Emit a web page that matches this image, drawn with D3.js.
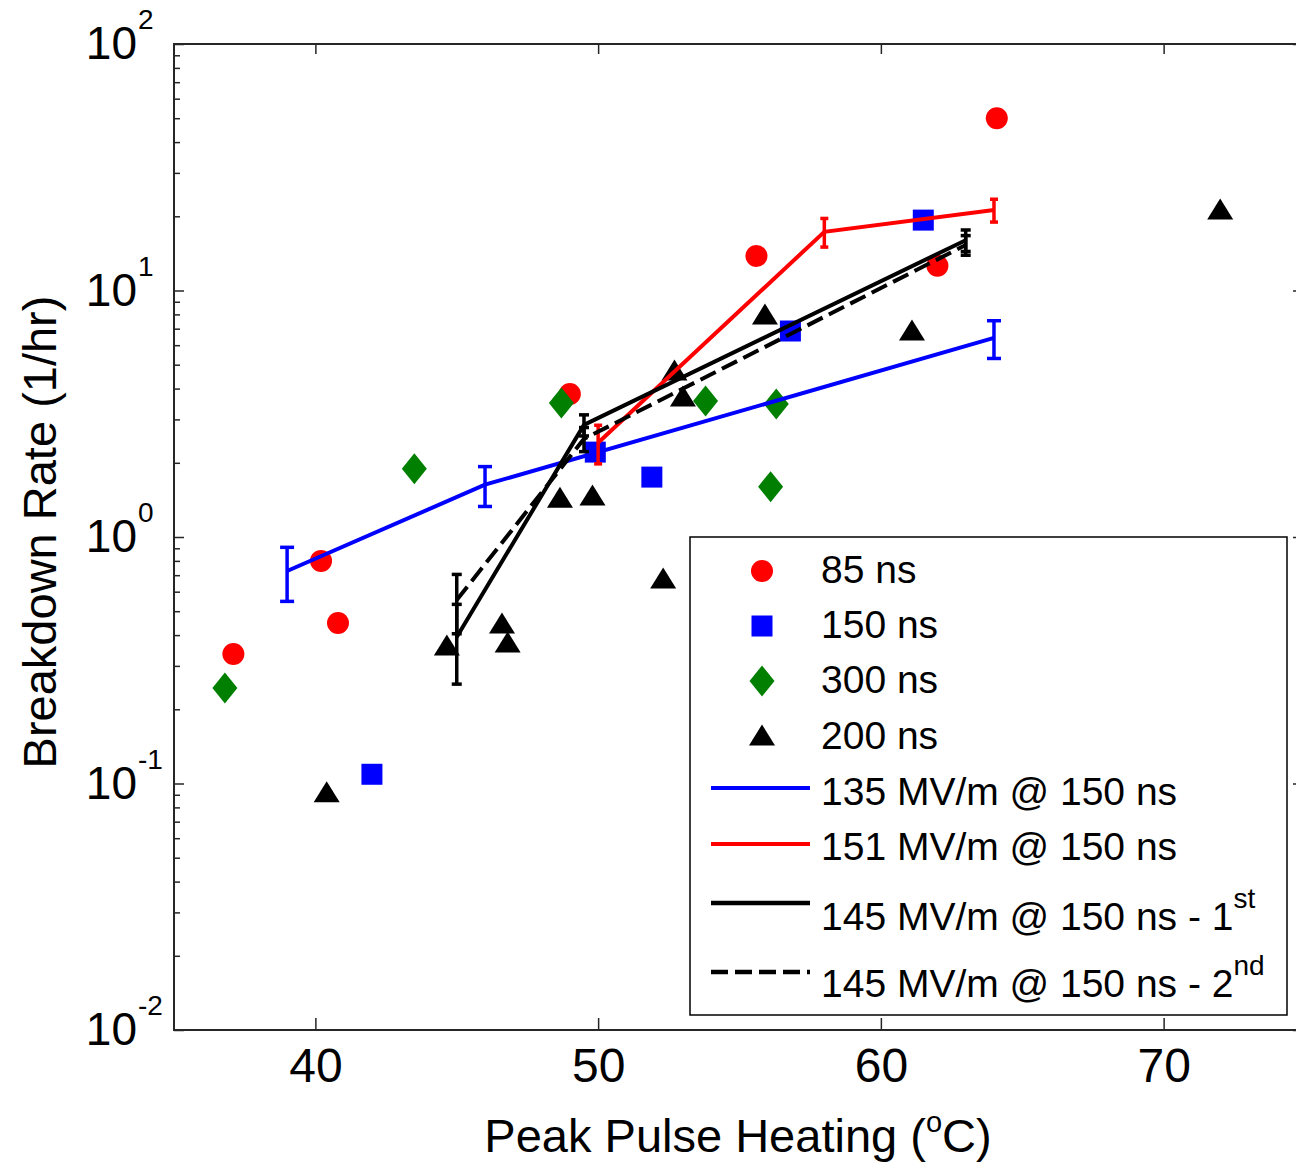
<!DOCTYPE html>
<html>
<head>
<meta charset="utf-8">
<script src="https://cdn.jsdelivr.net/npm/d3@7"></script>
<style>
  body { margin: 0; background: #fff; }
  svg { display: block; font-family: Arial, "Liberation Sans", sans-serif; }
</style>
</head>
<body>
<script>
// Scatter data
var x85 = [37.1, 40.2, 40.8, 49.0, 55.6, 62.0, 64.1];
var y85 = [0.335, 0.80, 0.448, 3.80, 13.8, 12.6, 50];

var x150 = [42.0, 49.9, 51.9, 56.8, 61.5];
var y150 = [0.109, 2.21, 1.75, 6.85, 19.3];

var x300 = [36.8, 43.5, 48.7, 53.8, 56.3, 56.1];
var y300 = [0.244, 1.89, 3.50, 3.56, 3.46, 1.60];

var x200 = [40.4, 44.65, 46.6, 46.8, 48.65, 49.8, 52.3, 52.7, 53.0, 55.9, 61.1, 72.0];
var y200 = [0.0925, 0.365, 0.448, 0.375, 1.45, 1.48, 0.682, 4.76, 3.73, 8.03, 6.92, 21.4];

// Fixed-field runs with error bars
var x135 = [39, 46, 64];
var y135 = [0.728, 1.63, 6.42];
var e135 = [0.18, 0.30, 1.12];

var x151 = [50, 58, 64];
var y151 = [2.41, 17.3, 21.2];
var e151 = [0.43, 2.3, 2.25];

var x145a = [45, 49.5, 63];
var y145a = [0.393, 2.85, 16.0];
var e145a = [0.14, 0.28, 1.6];

var x145b = [45, 49.5, 63];
var y145b = [0.555, 2.5, 15.3];
var e145b = [0.15, 0.28, 1.4];

var xTicks = [40, 50, 60, 70];
var yDecades = [0.01, 0.1, 1, 10, 100];

var W = 1296, H = 1162;
var L = 174, R = 1305, T = 44, B = 1030;

var svg = d3.select('body').append('svg')
  .attr('width', W)
  .attr('height', H);

var x = d3.scaleLinear().domain([35, 75]).range([L, R]);
var y = d3.scaleLog().domain([0.01, 100]).range([B, T]);

function zip(xs, ys) {
  return xs.map(function(v, i) { return [v, ys[i]]; });
}

// marker shapes
var diamond = 'M0,-15.5L12.5,0L0,15.5L-12.5,0Z';
var triangle = 'M0,-10.5L13,10.5L-13,10.5Z';
var square = 'M-10.5,-10.5H10.5V10.5H-10.5Z';

function markers(data, path, color) {
  svg.append('g').selectAll('path')
    .data(data)
    .enter()
    .append('path')
    .attr('d', path)
    .attr('fill', color)
    .attr('transform', function(d) {
      return 'translate(' + x(d[0]) + ',' + y(d[1]) + ')';
    });
}

function circles(data, color) {
  svg.append('g').selectAll('circle')
    .data(data)
    .enter()
    .append('circle')
    .attr('cx', function(d) { return x(d[0]); })
    .attr('cy', function(d) { return y(d[1]); })
    .attr('r', 11)
    .attr('fill', color);
}

circles(zip(x85, y85), '#ff0000');
markers(zip(x150, y150), square, '#0000ff');
markers(zip(x300, y300), diamond, '#007f00');
markers(zip(x200, y200), triangle, '#000');

var line = d3.line()
  .x(function(d) { return x(d[0]); })
  .y(function(d) { return y(d[1]); });

function errLine(xs, ys, es, color, width, dash, cap) {
  var g = svg.append('g');
  var pts = zip(xs, ys);
  g.append('path')
    .datum(pts)
    .attr('d', line)
    .attr('fill', 'none')
    .attr('stroke', color)
    .attr('stroke-width', width)
    .attr('stroke-dasharray', dash);

  var bars = g.selectAll('g.eb')
    .data(xs.map(function(v, i) { return [v, ys[i], es[i]]; }))
    .enter()
    .append('g')
    .attr('stroke', color)
    .attr('stroke-width', 3.5);
  bars.append('line')
    .attr('x1', function(d) { return x(d[0]); })
    .attr('x2', function(d) { return x(d[0]); })
    .attr('y1', function(d) { return y(d[1] + d[2]); })
    .attr('y2', function(d) { return y(d[1] - d[2]); });
  [1, -1].forEach(function(s) {
    bars.append('line')
      .attr('x1', function(d) { return x(d[0]) - cap; })
      .attr('x2', function(d) { return x(d[0]) + cap; })
      .attr('y1', function(d) { return y(d[1] + s * d[2]); })
      .attr('y2', function(d) { return y(d[1] + s * d[2]); });
  });
}

errLine(x135, y135, e135, '#0000ff', 4, null, 7);
errLine(x151, y151, e151, '#ff0000', 4, null, 4);
errLine(x145a, y145a, e145a, '#000', 4, null, 5);
errLine(x145b, y145b, e145b, '#000', 4, '17,7', 5);

// frame and ticks
var axisColor = '#262626';

function styleAxis(g) {
  g.select('.domain').remove();
  g.selectAll('line').attr('stroke', axisColor).attr('stroke-width', 1.5);
}

svg.append('g')
  .attr('transform', 'translate(0,' + B + ')')
  .call(d3.axisBottom(x).tickValues(xTicks).tickSize(-12).tickPadding(18))
  .call(styleAxis)
  .call(function(g) {
    g.selectAll('text').attr('font-size', 48).attr('fill', '#000')
      .attr('font-family', 'Arial, "Liberation Sans", sans-serif');
  });

svg.append('g')
  .attr('transform', 'translate(0,' + T + ')')
  .call(d3.axisTop(x).tickValues(xTicks).tickSize(-10).tickFormat(''))
  .call(styleAxis);

var minor = y.ticks().filter(function(v) { return yDecades.indexOf(v) < 0; });

svg.append('g')
  .attr('transform', 'translate(' + L + ',0)')
  .call(d3.axisLeft(y).tickValues(minor).tickSize(-6).tickFormat(''))
  .call(styleAxis);
svg.append('g')
  .attr('transform', 'translate(' + L + ',0)')
  .call(d3.axisLeft(y).tickValues(yDecades).tickSize(-10).tickFormat(''))
  .call(styleAxis);
svg.append('g')
  .attr('transform', 'translate(' + R + ',0)')
  .call(d3.axisRight(y).tickValues(minor).tickSize(-6).tickFormat(''))
  .call(styleAxis);
svg.append('g')
  .attr('transform', 'translate(' + R + ',0)')
  .call(d3.axisRight(y).tickValues(yDecades).tickSize(-12).tickFormat(''))
  .call(styleAxis);

svg.append('rect')
  .attr('x', L).attr('y', T)
  .attr('width', R - L).attr('height', B - T)
  .attr('fill', 'none')
  .attr('stroke', axisColor)
  .attr('stroke-width', 2);

// y tick labels as 10^n
var yLab = svg.append('g').selectAll('g')
  .data(yDecades)
  .enter()
  .append('g');
yLab.append('text')
  .attr('x', 137)
  .attr('y', function(d) { return y(d) + 15; })
  .attr('text-anchor', 'end')
  .attr('font-size', 46)
  .text('10');
yLab.append('text')
  .attr('x', 138)
  .attr('y', function(d) { return y(d) - 15; })
  .attr('font-size', 28)
  .text(function(d) { return Math.round(Math.log10(d)); });

// axis titles
var xTitle = svg.append('text')
  .attr('x', 738)
  .attr('y', 1152)
  .attr('text-anchor', 'middle')
  .attr('font-size', 47);
xTitle.append('tspan').text('Peak Pulse Heating (');
xTitle.append('tspan').attr('font-size', 29).attr('dy', -20).text('o');
xTitle.append('tspan').attr('dy', 20).text('C)');

svg.append('text')
  .attr('transform', 'translate(56,532) rotate(-90)')
  .attr('text-anchor', 'middle')
  .attr('font-size', 47)
  .text('Breakdown Rate (1/hr)');

// legend
var leg = svg.append('g');
leg.append('rect')
  .attr('x', 690).attr('y', 537)
  .attr('width', 597).attr('height', 478)
  .attr('fill', '#fff')
  .attr('stroke', '#000')
  .attr('stroke-width', 1.5);

var markRows = [
  { label: '85 ns', kind: 'circle', color: '#ff0000', my: 571, ty: 583 },
  { label: '150 ns', kind: square, color: '#0000ff', my: 626, ty: 638 },
  { label: '300 ns', kind: diamond, color: '#007f00', my: 681, ty: 693 },
  { label: '200 ns', kind: triangle, color: '#000', my: 735, ty: 749 }
];
markRows.forEach(function(r) {
  if (r.kind === 'circle') {
    leg.append('circle').attr('cx', 762).attr('cy', r.my).attr('r', 11).attr('fill', r.color);
  } else {
    leg.append('path').attr('d', r.kind).attr('fill', r.color)
      .attr('transform', 'translate(762,' + r.my + ')');
  }
  leg.append('text').attr('x', 821).attr('y', r.ty).attr('font-size', 39).text(r.label);
});

var lineRows = [
  { label: '135 MV/m @ 150 ns', sup: '', color: '#0000ff', w: 4, dash: null, ly: 788, ty: 805 },
  { label: '151 MV/m @ 150 ns', sup: '', color: '#ff0000', w: 4, dash: null, ly: 844, ty: 860 },
  { label: '145 MV/m @ 150 ns - 1', sup: 'st', color: '#000', w: 4.5, dash: null, ly: 903, ty: 930 },
  { label: '145 MV/m @ 150 ns - 2', sup: 'nd', color: '#000', w: 4.5, dash: '17,7', ly: 972, ty: 997 }
];
lineRows.forEach(function(r) {
  leg.append('line')
    .attr('x1', 711).attr('x2', 810)
    .attr('y1', r.ly).attr('y2', r.ly)
    .attr('stroke', r.color)
    .attr('stroke-width', r.w)
    .attr('stroke-dasharray', r.dash);
  var t = leg.append('text').attr('x', 821).attr('y', r.ty).attr('font-size', 39);
  t.append('tspan').text(r.label);
  if (r.sup) {
    t.append('tspan').attr('font-size', 28).attr('dy', -22).text(r.sup);
  }
});
</script>
</body>
</html>
